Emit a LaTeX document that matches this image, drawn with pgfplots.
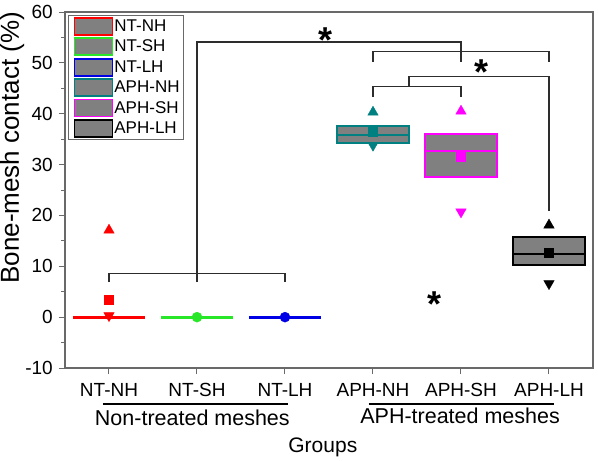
\documentclass[border=0pt]{standalone}
\usepackage{fontspec}
\setmainfont{Liberation Sans}
\usepackage{pgfplots}
\pgfplotsset{compat=1.18}
\definecolor{cgreen}{RGB}{40,230,40}
\definecolor{cblue}{RGB}{0,0,230}
\definecolor{cteal}{RGB}{0,128,128}
\definecolor{cmag}{RGB}{255,0,255}
\definecolor{cfill}{RGB}{128,128,128}
\definecolor{cframe}{RGB}{105,105,105}
\definecolor{cbr}{RGB}{45,45,45}
\begin{document}
\begin{tikzpicture}
\useasboundingbox (-65pt,-93pt) rectangle (533pt,368pt);
\begin{axis}[
  at={(0,0)}, anchor=south west,
  scale only axis, width=528pt, height=356pt,
  xmin=-0.5, xmax=5.5, ymin=-10, ymax=60,
  clip=false,
  axis line style={cframe, line width=1.1pt},
  xtick={0,...,5}, xticklabels={NT-NH,NT-SH,NT-LH,APH-NH,APH-SH,APH-LH},
  ytick={-10,0,...,60}, minor ytick={-5,5,...,55},
  tick align=outside, xtick pos=bottom, ytick pos=left,
  major tick length=6pt, minor tick length=3.5pt,
  tick style={cframe, line width=1pt},
  ticklabel style={font=\fontsize{19}{20}\selectfont, text=black},
  /pgf/number format/assume math mode=true,
  xticklabel style={anchor=base, yshift=-22pt, inner sep=0pt},
  yticklabel style={anchor=east, xshift=-6pt, inner sep=0pt},
  legend image code/.code={\path (0pt,0pt); \draw[#1, line width=1.8pt, fill=cfill] (2.7pt,-8.5pt) rectangle (40.7pt,8.5pt);},
  legend style={at={(0,1)}, anchor=north west, xshift=3pt, yshift=-3pt,
    draw=cframe, line width=0.8pt,
    nodes={font=\fontsize{17}{19}\selectfont, inner sep=1pt},
    inner xsep=3pt, inner ysep=1.5pt, row sep=1.6pt,
    /tikz/every even column/.append style={column sep=2.7pt}},
  legend cell align=left,
]
\addlegendimage{draw=red}\addlegendentry{NT-NH}
\addlegendimage{draw=cgreen}\addlegendentry{NT-SH}
\addlegendimage{draw=cblue}\addlegendentry{NT-LH}
\addlegendimage{draw=cteal}\addlegendentry{APH-NH}
\addlegendimage{draw=cmag}\addlegendentry{APH-SH}
\addlegendimage{draw=black}\addlegendentry{APH-LH}

% brackets
\addplot[forget plot, cbr, line width=1.2pt] coordinates {(0,6.9) (0,8.6) (2,8.6) (2,6.9)};
\addplot[forget plot, cbr, line width=1.2pt] coordinates {(1,6.9) (1,54.1) (4,54.1) (4,50.2)};
\addplot[forget plot, cbr, line width=1.2pt] coordinates {(3,50.2) (3,52.2) (5,52.2) (5,50.2)};
\addplot[forget plot, cbr, line width=1.2pt] coordinates {(3.41,45.3) (3.41,47.3) (5,47.3) (5,20.8)};
\addplot[forget plot, cbr, line width=1.2pt] coordinates {(3,43.3) (3,45.3) (4,45.3) (4,43.3)};

% NT groups: all values at 0 (flat box)
\addplot[forget plot, red, line width=3pt] coordinates {(-0.41,0) (0.41,0)};
\addplot[forget plot, cgreen, line width=3pt] coordinates {(0.59,0) (1.41,0)};
\addplot[forget plot, cblue, line width=3pt] coordinates {(1.59,0) (2.41,0)};

% APH boxes (lower quartile, upper quartile) and medians
\addplot[forget plot, draw=cteal, fill=cfill, line width=2pt] coordinates {(2.59,34.3) (3.41,34.3) (3.41,37.5) (2.59,37.5)} --cycle;
\addplot[forget plot, cteal, line width=2pt] coordinates {(2.59,35.9) (3.41,35.9)};
\addplot[forget plot, draw=cmag, fill=cfill, line width=2pt] coordinates {(3.59,27.6) (4.41,27.6) (4.41,36.1) (3.59,36.1)} --cycle;
\addplot[forget plot, cmag, line width=2pt] coordinates {(3.59,32.7) (4.41,32.7)};
\addplot[forget plot, draw=black, fill=cfill, line width=2pt] coordinates {(4.59,10.2) (5.41,10.2) (5.41,15.7) (4.59,15.7)} --cycle;
\addplot[forget plot, black, line width=2pt] coordinates {(4.59,12.5) (5.41,12.5)};

% markers: max (up), min (down), mean (square)
\addplot[forget plot, only marks, mark=triangle*, mark size=6pt, red] coordinates {(0,17.1)};
\addplot[forget plot, only marks, mark=triangle*, mark size=6pt, mark options={rotate=180}, red] coordinates {(0,0.3)};
\addplot[forget plot, only marks, mark=square*, mark size=4.5pt, red] coordinates {(0,3.5)};
\addplot[forget plot, only marks, mark=*, mark size=5pt, cgreen] coordinates {(1,0)};
\addplot[forget plot, only marks, mark=*, mark size=5pt, cblue] coordinates {(2,0)};

\addplot[forget plot, only marks, mark=triangle*, mark size=6pt, cteal] coordinates {(3,40.3)};
\addplot[forget plot, only marks, mark=triangle*, mark size=6pt, mark options={rotate=180}, cteal] coordinates {(3,33.8)};
\addplot[forget plot, only marks, mark=square*, mark size=4.5pt, cteal] coordinates {(3,36.5)};

\addplot[forget plot, only marks, mark=triangle*, mark size=6pt, cmag] coordinates {(4,40.5)};
\addplot[forget plot, only marks, mark=triangle*, mark size=6pt, mark options={rotate=180}, cmag] coordinates {(4,20.7)};
\addplot[forget plot, only marks, mark=square*, mark size=4.5pt, cmag] coordinates {(4,31.6)};

\addplot[forget plot, only marks, mark=triangle*, mark size=6pt, black] coordinates {(5,18.1)};
\addplot[forget plot, only marks, mark=triangle*, mark size=6pt, mark options={rotate=180}, black] coordinates {(5,6.6)};
\addplot[forget plot, only marks, mark=square*, mark size=4.5pt, black] coordinates {(5,12.7)};

% stars
\node[anchor=north, inner sep=0pt, font=\fontsize{36}{36}\selectfont\bfseries] at (axis cs:2.46,56.9) {*};
\node[anchor=north, inner sep=0pt, font=\fontsize{36}{36}\selectfont\bfseries] at (axis cs:4.23,50.6) {*};
\node[anchor=north, inner sep=0pt, font=\fontsize{36}{36}\selectfont\bfseries] at (axis cs:3.70,5.1) {*};

% group labels
\draw[black, line width=1.2pt] ([yshift=-36pt]axis cs:-0.07,-10) -- ([yshift=-36pt]axis cs:2.03,-10);
\draw[black, line width=1.2pt] ([yshift=-36pt]axis cs:2.95,-10) -- ([yshift=-36pt]axis cs:5.06,-10);
\node[anchor=base, inner sep=0pt, font=\fontsize{21.5}{22}\selectfont] at ([yshift=-57pt]axis cs:0.947,-10) {Non-treated meshes};
\node[anchor=base, inner sep=0pt, font=\fontsize{21.5}{22}\selectfont] at ([yshift=-55pt]axis cs:3.99,-10) {APH-treated meshes};
\node[anchor=base, inner sep=0pt, font=\fontsize{21}{22}\selectfont] at ([yshift=-84pt]axis cs:2.43,-10) {Groups};
\node[rotate=90, anchor=base, inner sep=0pt, font=\fontsize{26}{26}\selectfont] at ([xshift=-46pt]axis cs:-0.5,33.3) {Bone-mesh contact (\%)};
\end{axis}
\end{tikzpicture}
\end{document}
